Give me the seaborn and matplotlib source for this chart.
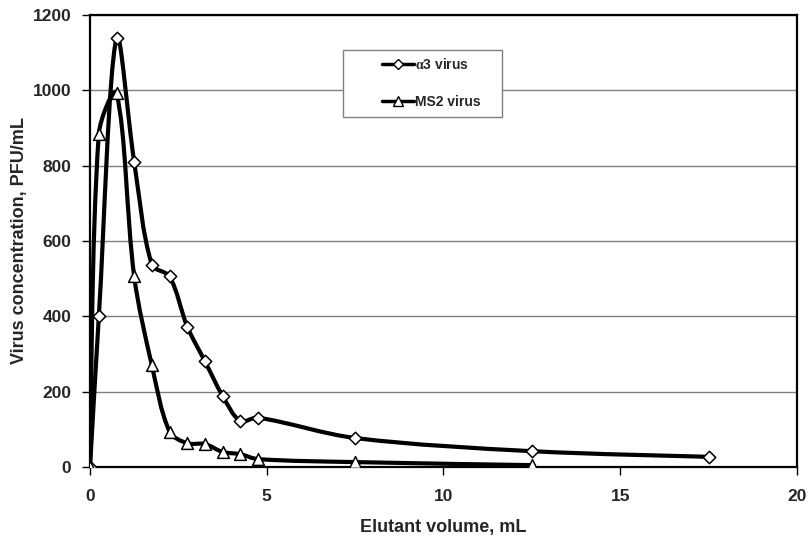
import matplotlib
matplotlib.use("Agg")
import matplotlib.pyplot as plt
import numpy as np
import pandas as pd
import seaborn as sns
from matplotlib.path import Path
from matplotlib.patches import PathPatch, Rectangle
from matplotlib.lines import Line2D

# Elution profiles of the two viruses
volume_a3 = [0, 0.25, 0.75, 1.25, 1.75, 2.25, 2.75, 3.25, 3.75, 4.25, 4.75, 7.5, 12.5, 17.5]
conc_a3 = [0, 400, 1140, 810, 537, 506, 373, 281, 189, 122, 131, 77, 42, 27]

volume_ms2 = [0, 0.25, 0.75, 1.25, 1.75, 2.25, 2.75, 3.25, 3.75, 4.25, 4.75, 7.5, 12.5]
conc_ms2 = [0, 885, 992, 506, 270, 94, 63, 61, 40, 34, 21, 13, 5]

x_ticks = [0, 5, 10, 15, 20]
y_ticks = [0, 200, 400, 600, 800, 1000, 1200]

label_a3 = r"$\mathrm{\alpha}$3 virus"
label_ms2 = "MS2 virus"
x_label = "Elutant volume, mL"
y_label = "Virus concentration, PFU/mL"

sns.set_theme(style="white")
plt.rcParams["font.family"] = ["Liberation Sans", "DejaVu Sans"]
plt.rcParams["font.weight"] = "bold"
plt.rcParams["mathtext.fontset"] = "custom"
plt.rcParams["mathtext.rm"] = "Liberation Serif"


def smooth_path(ax, xs, ys):
    """Cubic Bezier path through the points; tangents are weighted by the
    on-screen lengths of the neighbouring segments to avoid overshoot."""
    data = np.column_stack([xs, ys]).astype(float)
    pts = ax.transData.transform(data)
    n = len(pts)
    seg = np.hypot(*np.diff(pts, axis=0).T)
    out_ctrl = np.zeros_like(pts)
    in_ctrl = np.zeros_like(pts)
    for i in range(n):
        if i == 0:
            out_ctrl[i] = pts[i] + (pts[1] - pts[0]) / 6.0
            continue
        if i == n - 1:
            in_ctrl[i] = pts[i] - (pts[i] - pts[i - 1]) / 6.0
            continue
        tan = pts[i + 1] - pts[i - 1]
        total = seg[i - 1] + seg[i]
        in_ctrl[i] = pts[i] - tan * seg[i - 1] / total / 3.0
        out_ctrl[i] = pts[i] + tan * seg[i] / total / 3.0
    verts = [pts[0]]
    codes = [Path.MOVETO]
    for i in range(n - 1):
        verts += [out_ctrl[i], in_ctrl[i + 1], pts[i + 1]]
        codes += [Path.CURVE4] * 3
    verts = ax.transData.inverted().transform(np.array(verts))
    return Path(verts, codes)


fig = plt.figure(figsize=(8.1, 5.39), dpi=100)
ax = fig.add_axes([90 / 810, 1 - 467 / 539, (797 - 90) / 810, (467 - 15) / 539])
ax.set_xlim(0, 20)
ax.set_ylim(0, 1200)

df_a3 = pd.DataFrame({"volume": volume_a3, "conc": conc_a3})
df_ms2 = pd.DataFrame({"volume": volume_ms2, "conc": conc_ms2})

for df in (df_a3, df_ms2):
    ax.add_patch(PathPatch(smooth_path(ax, df["volume"], df["conc"]), fill=False,
                           lw=3.0, edgecolor="black", capstyle="round",
                           joinstyle="round", zorder=3))

sns.scatterplot(data=df_a3, x="volume", y="conc", marker="D", s=40,
                color="white", edgecolor="black", linewidth=1.1, zorder=4, ax=ax)
sns.scatterplot(data=df_ms2, x="volume", y="conc", marker="^", s=72,
                color="white", edgecolor="black", linewidth=1.1, zorder=4, ax=ax)

ax.set_xlim(0, 20)
ax.set_ylim(0, 1200)
ax.set_xticks(x_ticks)
ax.set_yticks(y_ticks)
ax.tick_params(axis="both", labelsize=12.5, length=5.5, width=1.0, color="black",
               direction="out", bottom=True, left=True)
ax.tick_params(axis="x", pad=10)
ax.tick_params(axis="y", pad=8)
for lab in ax.get_xticklabels() + ax.get_yticklabels():
    lab.set_fontweight("bold")

ax.yaxis.grid(True, color="#808080", linewidth=1.0)
ax.xaxis.grid(False)
ax.set_axisbelow(True)

for side, sp in ax.spines.items():
    sp.set_visible(True)
    sp.set_color("black")
    sp.set_linewidth(1.6)

ax.set_xlabel(x_label, fontsize=13, fontweight="bold", labelpad=11)
ax.set_ylabel(y_label, fontsize=13, fontweight="bold", labelpad=3)

# Legend box
ax.add_patch(Rectangle((343 / 810, 1 - 117 / 539), (502 - 343) / 810, (117 - 50) / 539,
                       transform=fig.transFigure, facecolor="white",
                       edgecolor="#808080", linewidth=1.0, zorder=5, clip_on=False))

handles = [
    Line2D([], [], color="black", lw=2.5, marker="D", markersize=5,
           markerfacecolor="white", markeredgecolor="black", markeredgewidth=1.0),
    Line2D([], [], color="black", lw=2.5, marker="^", markersize=7,
           markerfacecolor="white", markeredgecolor="black", markeredgewidth=1.0),
]
leg = fig.legend(handles, [label_a3, label_ms2], loc="upper left",
                 bbox_to_anchor=(382 / 810, 1 - 57 / 539),
                 frameon=False, borderpad=0, borderaxespad=0,
                 handlelength=2.3, handletextpad=0.1, labelspacing=1.65,
                 prop={"weight": "bold", "size": 10})
leg.set_zorder(6)

fig.savefig("out.png", dpi=100)
